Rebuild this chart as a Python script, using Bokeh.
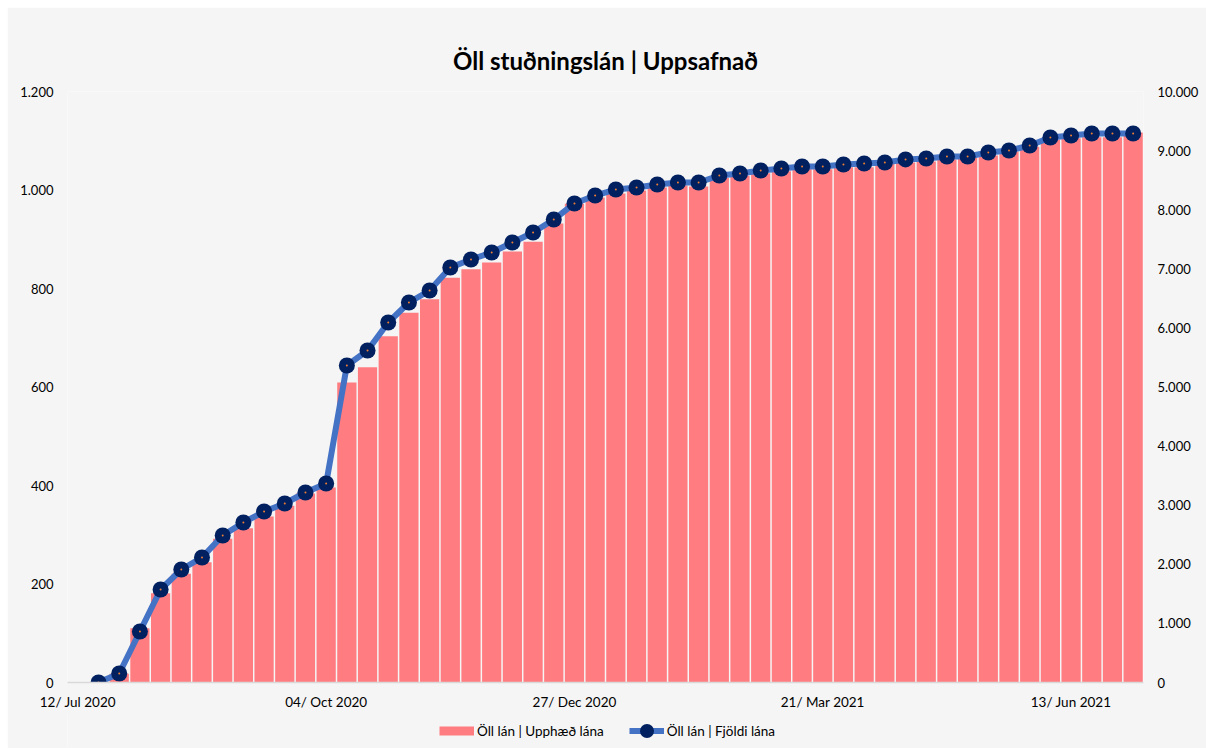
import pandas as pd
from bokeh.plotting import figure
from bokeh.layouts import column
from bokeh.models import (Range1d, LinearAxis, FixedTicker, DatetimeTickFormatter,
                          Legend, LegendItem, ColumnDataSource)
from bokeh.embed import file_html
from bokeh.resources import INLINE

# ---- data ----
first_week = "2020-07-19"
n_weeks = 51
weeks = pd.date_range(first_week, periods=n_weeks, freq="7D")

amount = [0, 18, 110, 181, 221, 244, 292, 313, 337, 359,
          384, 396, 609, 640, 703, 751, 778, 822, 839, 853,
          875, 895, 932, 972, 985, 993, 999, 1005, 1009, 1007,
          1025, 1029, 1034, 1038, 1042, 1042, 1046, 1046, 1054, 1056,
          1058, 1062, 1066, 1070, 1078, 1088, 1102, 1105, 1107, 1107,
          1117]

count = [0, 152, 863, 1574, 1912, 2115, 2487, 2707, 2893, 3029,
         3215, 3367, 5364, 5618, 6091, 6430, 6633, 7022, 7157, 7276,
         7445, 7614, 7834, 8105, 8240, 8342, 8376, 8426, 8460, 8460,
         8579, 8613, 8663, 8697, 8731, 8731, 8765, 8782, 8799, 8850,
         8866, 8900, 8900, 8968, 9002, 9086, 9222, 9255, 9289, 9289,
         9289]

x_tick_dates = ["2020-07-12", "2020-10-04", "2020-12-27", "2021-03-21", "2021-06-13"]
left_ticks = [0, 200, 400, 600, 800, 1000, 1200]
left_labels = ["0", "200", "400", "600", "800", "1.000", "1.200"]
right_ticks = [0, 1000, 2000, 3000, 4000, 5000, 6000, 7000, 8000, 9000, 10000]
right_labels = ["0", "1.000", "2.000", "3.000", "4.000", "5.000", "6.000",
                "7.000", "8.000", "9.000", "10.000"]

title_text = "Öll stuðningslán | Uppsafnað"
label_amount = "Öll lán | Upphæð lána"
label_count = "Öll lán | Fjöldi lána"

# ---- styling ----
FONT = "Lato"
BG = "#f5f5f5"
BAR = "#FF7C80"
LINE = "#4472C4"
MARK = "#002060"
DAY = pd.Timedelta(days=1)

src = ColumnDataSource(dict(x=weeks, amount=amount, count=count))

x_start = pd.Timestamp(x_tick_dates[0]) - 3.5 * DAY
x_end = weeks[-1] + 3.5 * DAY

p = figure(frame_width=1076, frame_height=591, x_axis_type="datetime",
           output_backend="svg", toolbar_location=None,
           x_range=Range1d(x_start, x_end), y_range=Range1d(0, 1200),
           min_border_left=60, min_border_right=63,
           min_border_top=84, min_border_bottom=32)
p.margin = (7, 0, 0, 7)
p.background_fill_color = BG
p.border_fill_color = BG
p.outline_line_color = None
p.xgrid.visible = False
p.ygrid.visible = False

p.title.text = title_text
p.title.align = "center"
p.title.text_font = FONT
p.title.text_font_size = "24px"
p.title.text_font_style = "bold"
p.title.text_color = "black"
p.title.standoff = 34

p.extra_y_ranges = {"count": Range1d(0, 10000)}

bars = p.vbar(x="x", top="amount", width=6.5 * DAY, source=src,
              fill_color=BAR, line_color=None)
line = p.line(x="x", y="count", source=src, y_range_name="count",
              line_color=LINE, line_width=6)
dots = p.scatter(x="x", y="count", source=src, y_range_name="count",
                 size=16, fill_color=MARK, line_color=None)
centers = p.scatter(x="x", y="count", source=src, y_range_name="count",
                    size=2, fill_color="#ED7D31", line_color=None)

# x axis
xa = p.xaxis[0]
xa.ticker = FixedTicker(ticks=[pd.Timestamp(d).value / 1e6 for d in x_tick_dates])
fmt = "%d/ %b %Y"
xa.formatter = DatetimeTickFormatter(microseconds=fmt, milliseconds=fmt, seconds=fmt,
                                     minsec=fmt, minutes=fmt, hourmin=fmt, hours=fmt,
                                     days=fmt, months=fmt, years=fmt)
xa.axis_line_color = "#d9d9d9"
xa.axis_line_width = 1.5


def style_axis(ax, standoff, size):
    ax.major_tick_line_color = None
    ax.minor_tick_line_color = None
    ax.major_tick_out = 0
    ax.major_tick_in = 0
    ax.minor_tick_out = 0
    ax.minor_tick_in = 0
    ax.major_label_standoff = standoff
    ax.major_label_text_font = FONT
    ax.major_label_text_font_size = size
    ax.major_label_text_color = "black"


style_axis(xa, 11, "13.5px")

# left axis
ya = p.yaxis[0]
ya.ticker = FixedTicker(ticks=left_ticks)
ya.major_label_overrides = dict(zip(left_ticks, left_labels))
ya.axis_line_color = None
style_axis(ya, 14, "13px")

# right axis
ra = LinearAxis(y_range_name="count", ticker=FixedTicker(ticks=right_ticks))
ra.major_label_overrides = dict(zip(right_ticks, right_labels))
ra.axis_line_color = None
style_axis(ra, 14, "13px")
p.add_layout(ra, "right")

# ---- legend strip below the chart ----
lf = figure(frame_width=1199, frame_height=35, output_backend="svg",
            toolbar_location=None, x_axis_location=None, y_axis_location=None,
            x_range=Range1d(0, 1), y_range=Range1d(0, 1),
            min_border=0)
lf.margin = (-1, 0, 0, 7)
lf.background_fill_color = BG
lf.border_fill_color = BG
lf.outline_line_color = None
lf.xgrid.visible = False
lf.ygrid.visible = False

# legend proxies: one point each, placed outside the visible range
proxy = ColumnDataSource(dict(x=[-9], y=[-9]))
sw_bar = lf.line(x="x", y="y", source=proxy, line_color=BAR, line_width=9)
sw_line = lf.line(x="x", y="y", source=proxy, line_color=LINE, line_width=6)
sw_dot = lf.scatter(x="x", y="y", source=proxy, fill_color=MARK, line_color=None)

legend = Legend(items=[LegendItem(label=label_amount, renderers=[sw_bar]),
                       LegendItem(label=label_count, renderers=[sw_line, sw_dot])],
                orientation="horizontal", location=(432, 0),
                glyph_width=35, glyph_height=35, label_standoff=3, spacing=25,
                padding=0, margin=0, border_line_color=None,
                background_fill_alpha=0, label_text_font=FONT,
                label_text_font_size="13.5px", label_text_color="black")
lf.add_layout(legend)

layout = column(p, lf, spacing=0)
open("out.html", "w").write(file_html(layout, INLINE))
